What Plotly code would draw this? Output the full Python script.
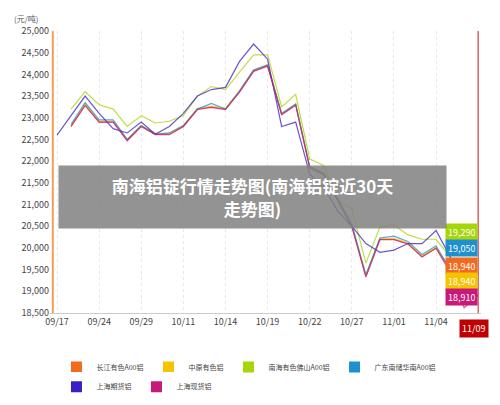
import plotly.graph_objects as go

ticks = ['09/17', '09/24', '09/29', '10/11', '10/14', '10/19', '10/22', '10/27', '11/01', '11/04', '']
names = ['长江有色A00铝', '中原有色铝', '南海有色佛山A00铝', '广东南储华南A00铝', '上海期货铝', '上海现货铝']
colors = ['#f26b1d', '#f5c400', '#a6d608', '#1e90d0', '#3a1fc4', '#c8187a']

changjiang = [None, 22800, 23300, 22900, 22900, 22480, 22800, 22620, 22620, 22800, 23200, 23250, 23200, 23600, 24080,
              24200, 23080, 23300, 21850, 21700, 21100, 20500, 19350, 20200, 20200, 20100, 19800, 20000, 19500, 18800, 18940]
zhongyuan = [None, 22820, 23320, 22920, 22920, 22500, 22820, 22640, 22640, 22820, 23220, 23270, 23220, 23620, 24100,
             24220, 23100, 23320, 21870, 21720, 21120, 20520, 19370, 20220, 20220, 20120, 19820, 20020, 19520, 18850, 18940]
nanhai = [None, 23200, 23600, 23300, 23200, 22800, 23050, 22880, 22920, 23050, 23500, 23720, 23650, 24050, 24450,
          24450, 23250, 23540, 22050, 21900, 21100, 20900, 19650, 20480, 20530, 20300, 20200, 20200, 19800, 19300, 19290]
guangdong = [None, 22850, 23350, 22950, 22950, 22500, 22820, 22620, 22650, 22820, 23200, 23330, 23200, 23620, 24100,
             24220, 23100, 23320, 21880, 21720, 21150, 20550, 19380, 20230, 20270, 20150, 19850, 20050, 19500, 19000, 19050]
qihuo = [22600, 23050, 23500, 23100, 22750, 22650, 22900, 22620, 22800, 23100, 23500, 23650, 23700, 24300, 24700,
         24350, 22800, 22900, 21700, 21400, 20850, 20500, 20100, 19900, 19950, 20100, 20100, 20400, 19800, 18950, 18900]
xianhuo = [None, 22800, 23280, 22900, 22900, 22470, 22800, 22610, 22610, 22800, 23190, 23240, 23190, 23590, 24070,
           24190, 23070, 23290, 21840, 21690, 21090, 20490, 19330, 20190, 20190, 20090, 19790, 19990, 19450, 18620, 18910]
series = [changjiang, zhongyuan, nanhai, guangdong, qihuo, xianhuo]
end_labels = ['18,940', '18,940', '19,290', '19,050', None, '18,910']
label_y = [19594, 19230, 20363, 20000, None, 18867]
legend_of = ['legend', 'legend', 'legend', 'legend', 'legend2', 'legend2']

x = list(range(31))
fig = go.Figure()
for name, c, ys in zip(names, colors, series):
    fig.add_trace(go.Scatter(x=x, y=ys, mode='lines', line=dict(color=c, width=1.2),
                             opacity=0.75, showlegend=False, name=name))
for name, c, lg in zip(names, colors, legend_of):
    fig.add_trace(go.Scatter(x=[None], y=[None], mode='markers', name=name, legend=lg,
                             marker=dict(symbol='square', size=11, color=c)))
for c, t, ly in zip(colors, end_labels, label_y):
    if t:
        fig.add_annotation(x=28.8, y=ly, text=t, showarrow=False, bgcolor=c, font=dict(color='white', size=9),
                           borderpad=2, height=12)

fig.add_vline(x=-0.3, line=dict(color='#f5a050', width=2))
fig.add_vline(x=30, line=dict(color='#e06060', width=1.5))
fig.add_annotation(x=29.7, y=-0.02, yref='paper', yanchor='top', text='11/09', showarrow=False,
                   bgcolor='#c00000', font=dict(color='white', size=9), borderpad=2)
fig.add_annotation(x=0.47, y=0.41, xref='paper', yref='paper', showarrow=False,
                   text='<b>南海铝锭行情走势图(南海铝锭近30天<br>走势图)</b>', bgcolor='rgba(128,128,128,0.85)',
                   font=dict(color='white', size=17), width=385, height=60)
fig.add_annotation(x=-0.02, y=1.07, xref='paper', yref='paper', xanchor='right', showarrow=False,
                   text='(元/吨)', font=dict(size=8, color='#555'))

leg = dict(orientation='h', x=0.015, xanchor='left', yanchor='top', font=dict(size=7), itemwidth=30)
fig.update_layout(
    width=500, height=405, margin=dict(l=42, r=27, t=23, b=78),
    plot_bgcolor='white', paper_bgcolor='white',
    font=dict(family='Noto Sans CJK SC', size=9, color='#444'),
    legend=dict(leg, y=-0.14),
    legend2=dict(leg, y=-0.21),
)
fig.update_xaxes(tickvals=list(range(0, 31, 3)), ticktext=ticks, range=[-0.5, 30.2], showgrid=True,
                 gridcolor='#e8e8e8', griddash='dot', showline=True, linecolor='#ccc', zeroline=False)
fig.update_yaxes(range=[18500, 25000], dtick=500, tickformat=',', showgrid=False, zeroline=False)
fig.write_html('out.html')
